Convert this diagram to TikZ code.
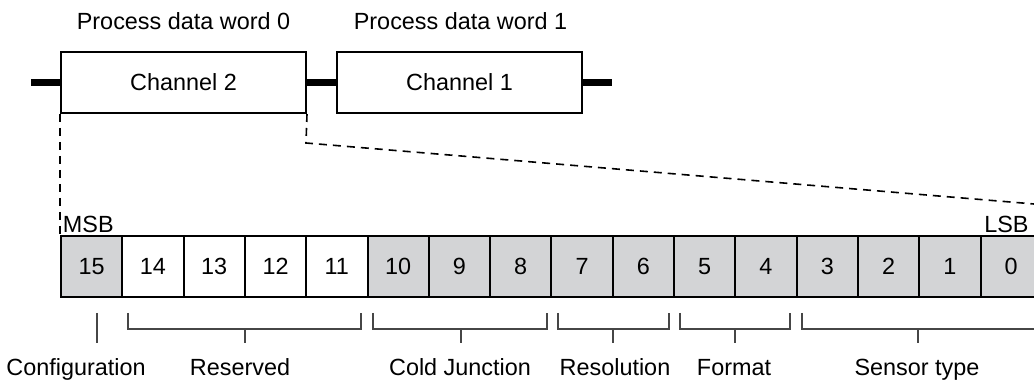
\documentclass[tikz,border=0pt]{standalone}
\usepackage{fontspec}
\setmainfont{Liberation Sans}
\definecolor{cellgray}{RGB}{211,212,214}
\definecolor{brk}{RGB}{70,70,70}
\begin{document}
\begin{tikzpicture}[x=0.5pt,y=-0.5pt,
  every node/.style={font=\fontsize{11.7}{14}\selectfont, inner sep=0pt},
  chbox/.style={draw, line width=1pt, fill=white, minimum width=122.5pt, minimum height=30.5pt},
  bitcell/.style={draw, line width=1pt, minimum width=30.65pt, minimum height=30.5pt},
  graycell/.style={bitcell, fill=cellgray},
  whitecell/.style={bitcell, fill=white},
  busbar/.style={line width=3.6pt},
  dashline/.style={line width=0.8pt, dash pattern=on 4pt off 3pt},
  bracket/.style={line width=0.6pt, draw=brk},
  lbl/.style={anchor=base}]
\clip (0,0) rectangle (1034,384);
\fill[white] (0,0) rectangle (1034,384);
% top words
\node (pw0) at (183.5,21) {Process data word 0};
\node (pw1) at (460.5,21) {Process data word 1};
\node[chbox] (ch2) at (183.5,82.5) {Channel 2};
\node[chbox] (ch1) at (459.5,82.5) {Channel 1};
\coordinate (barL) at (31,82.5);
\coordinate (barR) at (612,82.5);
\draw[busbar] (barL) -- (ch2.west);
\draw[busbar] (ch2.east) -- (ch1.west);
\draw[busbar] (ch1.east) -- (barR);
% register
\foreach \b [count=\i from 0] in {15,14,13,12,11,10,9,8,7,6,5,4,3,2,1,0}{
  \pgfmathsetmacro{\cx}{61+30.65+\i*61.3}
  \ifnum\b>10\relax
    \ifnum\b=15\relax
      \node[graycell] (b\b) at (\cx,266.5) {\b};
    \else
      \node[whitecell] (b\b) at (\cx,266.5) {\b};
    \fi
  \else
    \node[graycell] (b\b) at (\cx,266.5) {\b};
  \fi
}
\node[anchor=base west] (msb) at (62.5,232.5) {MSB};
\node[anchor=base east] (lsb) at (1029,232.5) {LSB};
% zoom lines
\coordinate (bend) at (306,143);
\coordinate (far) at (1040,204.5);
\draw[dashline] (ch2.south west) -- (b15.north west);
\draw[dashline] (ch2.south east) -- (bend) -- (far);
% labels
\node[lbl] (lcfg) at (76,376) {Configuration};
\node[lbl] (lres) at (240,376) {Reserved};
\node[lbl] (lcj) at (460,376) {Cold Junction};
\node[lbl] (lrsl) at (615,376) {Resolution};
\node[lbl] (lfmt) at (734,376) {Format};
\node[lbl] (lsen) at (917,376) {Sensor type};
% brackets
\draw[bracket] (97,313) -- (97,343);
\foreach \xa/\xb/\xc in {128/361/245, 373/547/461, 558/669/613, 680/790/735, 802/1045/918}{
  \draw[bracket] (\xa,313) -- (\xa,329) -- (\xb,329) -- (\xb,313);
  \draw[bracket] (\xc,329) -- (\xc,343);
}
\end{tikzpicture}
\end{document}
